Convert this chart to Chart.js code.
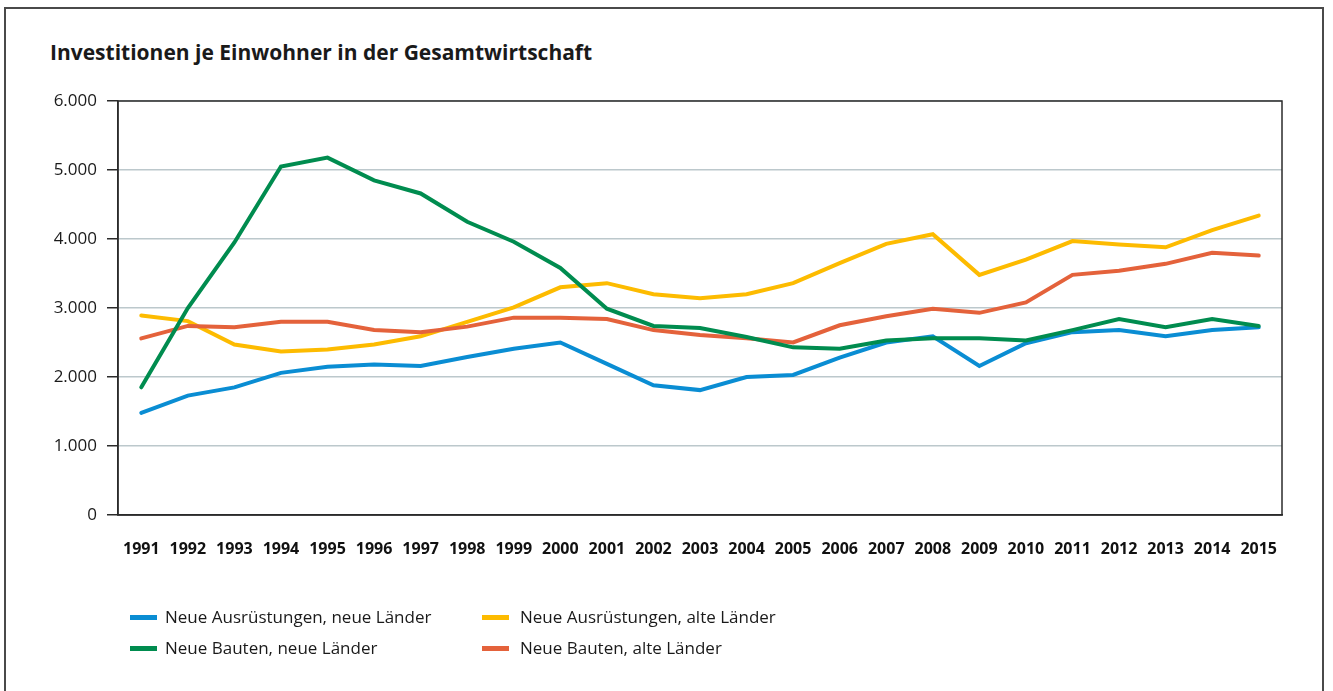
<!DOCTYPE html>
<html>
<head>
<meta charset="utf-8">
<script src="https://cdn.jsdelivr.net/npm/chart.js@4"></script>
<style>
  html, body { margin: 0; padding: 0; background: #fff; }
  body { width: 1333px; height: 691px; position: relative; overflow: hidden; font-family: "Open Sans", sans-serif; color: #1a1a1a; }
  #frame { position: absolute; left: 4px; top: 7px; width: 1320px; height: 720px; border: 2px solid #4a4a4a; box-sizing: border-box; }
  #title { position: absolute; left: 50px; top: 42px; font-size: 21px; line-height: 21px; font-weight: 700; white-space: nowrap; }
  canvas { position: absolute; left: 0; top: 0; }
  .leg { position: absolute; font-size: 17px; line-height: 17px; white-space: nowrap; }
  .sw { position: absolute; width: 27px; height: 5px; }
</style>
</head>
<body>
<div id="frame"></div>
<div id="title">Investitionen je Einwohner in der Gesamtwirtschaft</div>
<canvas id="c" width="1333" height="691"></canvas>
<div id="legend"></div>
<script>
const years = ["1991","1992","1993","1994","1995","1996","1997","1998","1999","2000","2001","2002","2003","2004","2005","2006","2007","2008","2009","2010","2011","2012","2013","2014","2015"];
const ausruestungenNeue = [1480, 1730, 1850, 2060, 2150, 2180, 2160, 2290, 2410, 2500, 2190, 1880, 1810, 2000, 2030, 2280, 2500, 2590, 2160, 2490, 2650, 2680, 2590, 2680, 2720];
const ausruestungenAlte = [2890, 2810, 2470, 2370, 2400, 2470, 2590, 2800, 3010, 3300, 3360, 3200, 3140, 3200, 3360, 3650, 3930, 4070, 3480, 3700, 3970, 3920, 3880, 4130, 4340];
const bautenNeue = [1850, 3000, 3950, 5050, 5180, 4850, 4660, 4250, 3960, 3580, 2990, 2740, 2710, 2580, 2430, 2410, 2530, 2560, 2560, 2530, 2680, 2840, 2720, 2840, 2740];
const bautenAlte = [2560, 2740, 2720, 2800, 2800, 2680, 2650, 2730, 2860, 2860, 2840, 2680, 2610, 2560, 2500, 2750, 2880, 2990, 2930, 3080, 3480, 3540, 3640, 3800, 3760];
const yTicks = [0, 1000, 2000, 3000, 4000, 5000, 6000];

const seriesLabels = ["Neue Ausrüstungen, neue Länder", "Neue Ausrüstungen, alte Länder", "Neue Bauten, neue Länder", "Neue Bauten, alte Länder"];
const seriesColors = ["#0a8dd3", "#fdbb00", "#008c4f", "#e4623b"];
const seriesData = [ausruestungenNeue, ausruestungenAlte, bautenNeue, bautenAlte];
const drawOrder = [1, 3, 0, 2];

const frameBox = {
  id: 'frameBox',
  afterDatasetsDraw(chart) {
    const a = chart.chartArea, ctx = chart.ctx;
    ctx.save();
    ctx.strokeStyle = '#2b2b2b';
    ctx.lineWidth = 1.5;
    ctx.strokeRect(a.left, a.top, a.right - a.left, a.bottom - a.top);
    ctx.restore();
  }
};

new Chart(document.getElementById('c'), {
  type: 'line',
  data: {
    labels: years,
    datasets: seriesData.map((d, i) => ({
      label: seriesLabels[i],
      data: d,
      borderColor: seriesColors[i],
      backgroundColor: seriesColors[i],
      borderWidth: 4,
      pointRadius: 0,
      tension: 0,
      borderCapStyle: 'round',
      borderJoinStyle: 'miter',
      order: drawOrder[i]
    }))
  },
  options: {
    responsive: false,
    animation: false,
    layout: { padding: { top: 101, right: 51, bottom: 0, left: 0 } },
    plugins: { legend: { display: false }, title: { display: false }, tooltip: { enabled: false } },
    scales: {
      x: {
        type: 'category',
        offset: true,
        grid: { display: false, drawTicks: false },
        border: { display: true, color: '#2b2b2b', width: 1.5 },
        ticks: { font: { family: 'Open Sans', size: 16, weight: '700' }, color: '#111', padding: 25, maxRotation: 0, autoSkip: false },
        afterFit(scale) { scale.height = 176; }
      },
      y: {
        min: 0, max: 6000,
        afterBuildTicks(scale) { scale.ticks = yTicks.map(v => ({ value: v })); },
        grid: { color: '#bcc8cc', lineWidth: 1.5, tickColor: '#2b2b2b', tickLength: 11, drawTicks: true },
        border: { display: true, color: '#2b2b2b', width: 1.5 },
        ticks: {
          font: { family: 'Open Sans', size: 17 }, color: '#1a1a1a', padding: 10,
          callback: v => v.toLocaleString('de-DE')
        },
        afterFit(scale) { scale.width = 118; }
      }
    }
  },
  plugins: [frameBox]
});

// Legend (two columns, two rows) built from the series arrays
const legendPos = [
  { sx: 130, tx: 165, y: 617 },
  { sx: 482, tx: 520, y: 617 },
  { sx: 130, tx: 165, y: 648 },
  { sx: 482, tx: 520, y: 648 }
];
const lg = document.getElementById('legend');
seriesLabels.forEach((lab, i) => {
  const p = legendPos[i];
  const sw = document.createElement('div');
  sw.className = 'sw';
  sw.style.left = p.sx + 'px';
  sw.style.top = (p.y - 2.5) + 'px';
  sw.style.background = seriesColors[i];
  lg.appendChild(sw);
  const t = document.createElement('div');
  t.className = 'leg';
  t.style.left = p.tx + 'px';
  t.style.top = (p.y - 9) + 'px';
  t.textContent = lab;
  lg.appendChild(t);
});
</script>
</body>
</html>
